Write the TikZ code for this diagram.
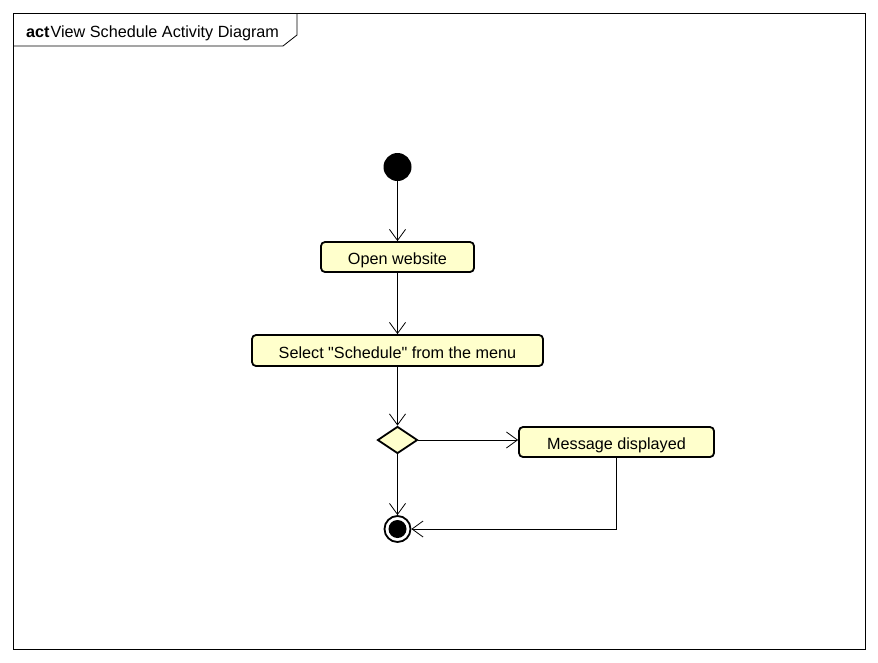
\documentclass[tikz,border=0pt]{standalone}
\usepackage{fontspec}
\setmainfont{Liberation Sans}[Ligatures=TeXOff]
\usetikzlibrary{arrows.meta,shapes.geometric}

\tikzset{
    action/.style={draw, line width=1.8pt, rounded corners=4pt, fill=actfill,
        inner sep=0pt, text height=15pt, text depth=0pt, font=\fontsize{16.2}{19}\selectfont},
    decision/.style={diamond, draw, line width=1.8pt, fill=actfill, inner sep=0pt,
        minimum width=40pt, minimum height=27pt},
    flow/.style={line width=0.8pt, -{Straight Barb[length=11pt,width=16pt,line width=0.8pt]}}
}
\definecolor{actfill}{HTML}{FFFFCC}

\begin{document}
\begin{tikzpicture}[x=1pt, y=-1pt]
        \useasboundingbox (0,0) rectangle (878,662);

        %% FRAME
        \draw[line width=0.8pt] (13,13) rectangle (865,649);
        % Tab
        \draw[line width=0.8pt] (13,46) -- (283,46) -- (297,35) -- (297,13);
        \node[anchor=west, inner sep=0pt, font=\fontsize{16.2}{19}\selectfont] (title) at (26,33)
            {\textbf{act}\hspace{1pt}View Schedule Activity Diagram};

        %% NODES
        % Start
        \node[circle, fill=black, minimum size=28pt, inner sep=0pt] (start) at (397.5,167) {};
        % Actions
        \node[action, minimum width=153pt, minimum height=30pt] (open) at (397.5,257) {Open website};
        \node[action, minimum width=291pt, minimum height=31pt] (select) at (397.5,350.5) {Select "Schedule" from the menu};
        % Decision
        \node[decision] (dec) at (397.5,440) {};
        \node[action, minimum width=195pt, minimum height=30pt] (msg) at (616.5,442) {Message displayed};
        % End
        \node[circle, draw, line width=1.8pt, minimum size=26pt, inner sep=0pt] (end) at (397.5,529) {};
        \fill (end) circle (9pt);

        %% FLOWS
        \draw[flow] (start) -- (open);
        \draw[flow] (open) -- (select);
        \draw[flow] (select) -- (dec);
        \draw[flow] (dec.east) -- (msg.west |- dec.east);
        \draw[flow] (dec) -- (end);
        \draw[flow] (msg.south -| 616,0) |- (end.east);
    \end{tikzpicture}
\end{document}
